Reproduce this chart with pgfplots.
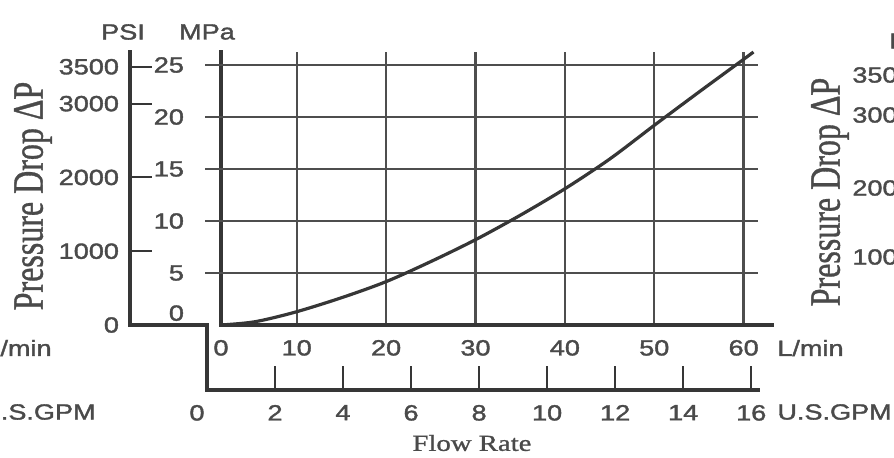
\documentclass[border=0pt]{standalone}
\usepackage{fontspec}
\setmainfont{Liberation Sans}[FakeBold=1.5]
\newfontfamily\serif{Liberation Serif}[FakeBold=1]
\usepackage{graphicx}
\usepackage{pgfplots}
\pgfplotsset{compat=1.18}
\definecolor{tc}{HTML}{4A4A4A}
\definecolor{lc}{HTML}{363636}
\definecolor{gc}{HTML}{4E4E4E}
\newcommand{\sx}[1]{\scalebox{1.23}[1]{#1}}
\pgfplotsset{
  every tick label/.append style={font=\fontsize{11}{13}\selectfont, text=tc},
  myax/.style={scale only axis, anchor=south west, axis lines=left,
    axis line style={-, line width=1.8pt, color=lc, line cap=rect},
    x axis line style={-}, y axis line style={-},
    tick style={line width=1pt, color=lc}, clip=false},
}
\begin{document}
\begin{tikzpicture}
\path[use as bounding box] (0,0) rectangle (447pt,228.5pt);
\clip (0,0) rectangle (447pt,228.5pt);
% PSI scale
\begin{axis}[myax, at={(65pt,66pt)}, width=38.5pt, height=136.5pt,
  xmin=0, xmax=1, ymin=0, ymax=3700, xtick=\empty,
  ytick={0,1000,2000,3000,3500},
  yticklabels={\sx{0},\sx{1000},\sx{2000},\sx{3000},\sx{3500}},
  tick align=inside, major tick length=11pt,
  yticklabel style={xshift=-2pt}]
\end{axis}
% GPM scale
\begin{axis}[myax, at={(103.5pt,33.5pt)}, width=275.5pt, height=32.5pt,
  xmin=0, xmax=16.2, ymin=0, ymax=1, ytick=\empty,
  xtick={0,2,...,16},
  xticklabels={{\sx{0}\rule{10pt}{0pt}},\sx{2},\sx{4},\sx{6},\sx{8},\sx{10},\sx{12},\sx{14},\sx{16}},
  tick align=inside, major tick length=12pt,
  xticklabel style={yshift=-4pt}]
\end{axis}
% main chart, L/min vs MPa
\begin{axis}[myax, at={(110.5pt,66pt)}, width=275.5pt, height=136.5pt,
  xmin=1.53, xmax=63.17, ymin=0, ymax=26.25,
  xtick={1.53,10,20,30,40,50,60},
  xticklabels={\sx{0},\sx{10},\sx{20},\sx{30},\sx{40},\sx{50},\sx{60}},
  ytick={0,5,10,15,20,25},
  yticklabels={\raisebox{12pt}{\sx{0}},\sx{5},\sx{10},\sx{15},\sx{20},\sx{25}},
  major tick length=0pt,
  xmajorgrids, grid style={line width=1.2pt, color=gc},
  xticklabel style={yshift=-4pt},
  yticklabel style={xshift=-15pt}]
\addplot[line width=1.2pt, color=gc] coordinates {(-0.26,5) (61.6,5)};
\addplot[line width=1.2pt, color=gc] coordinates {(-0.26,10) (61.6,10)};
\addplot[line width=1.2pt, color=gc] coordinates {(-0.26,15) (61.6,15)};
\addplot[line width=1.2pt, color=gc] coordinates {(-0.26,20) (61.6,20)};
\addplot[line width=1.2pt, color=gc] coordinates {(-0.26,25) (61.6,25)};
\addplot[smooth, line width=1.6pt, color=lc] coordinates {
 (1.53,0) (5.3,0.31) (9.8,1.23) (15.0,2.62) (20.0,4.17) (25.0,6.1)
 (30.0,8.2) (35.0,10.55) (40.0,13.1) (45.0,15.95) (50.0,19.2)
 (55.0,22.4) (60.0,25.55) (61.1,26.25)};
\end{axis}
% texts
\begin{scope}[every node/.style={text=tc, inner sep=0pt, font=\fontsize{11}{13}\selectfont}]
\node at (61.5pt,212.5pt) {\sx{PSI}};
\node at (103.5pt,212.5pt) {\sx{MPa}};
\node[rotate=90, font=\serif\fontsize{16}{18}\selectfont] at (16.5pt,130.5pt) {\scalebox{1}[1.35]{Pressure Drop ΔP}};
\node[rotate=90, font=\serif\fontsize{16}{18}\selectfont] at (415pt,132.5pt) {\scalebox{1}[1.35]{Pressure Drop ΔP}};
\node[font=\serif\fontsize{11.5}{13}\selectfont] at (236pt,7pt) {\scalebox{1.25}[1]{Flow Rate}};
\node[anchor=west] at (388.5pt,54.5pt) {\sx{L/min}};
\node[anchor=west] at (388.5pt,22.5pt) {\sx{U.S.GPM}};
\node[anchor=east] at (26pt,54.5pt) {\sx{L/min}};
\node[anchor=east] at (48pt,22.5pt) {\sx{U.S.GPM}};
\node[anchor=west] at (426pt,191pt) {\sx{3500}};
\node[anchor=west] at (426pt,171pt) {\sx{3000}};
\node[anchor=west] at (426pt,134.5pt) {\sx{2000}};
\node[anchor=west] at (426pt,100pt) {\sx{1000}};
\node[anchor=west] at (444.5pt,208pt) {\sx{PSI}};
\end{scope}
\end{tikzpicture}
\end{document}
